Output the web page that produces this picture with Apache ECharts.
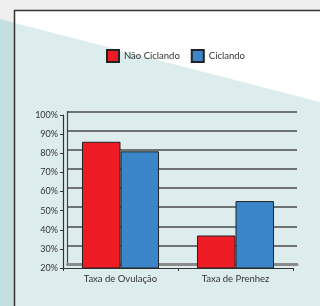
<!DOCTYPE html>
<html>
<head>
<meta charset="utf-8">
<script src="https://cdn.jsdelivr.net/npm/echarts@6/dist/echarts.min.js"></script>
<style>
  html, body { margin: 0; padding: 0; background: #efefef; }
  #chart { width: 320px; height: 306px; }
</style>
</head>
<body>
<div id="chart"></div>
<script>
// dados do gráfico
const categorias = ["Taxa de Ovulação", "Taxa de Prenhez"];
const naoCiclando = [86, 37];
const ciclando = [81, 55];
const eixoMin = 20;
const eixoMax = 100;
const eixoPasso = 10;

const fonte = "Lato, 'DejaVu Sans', sans-serif";
const chart = echarts.init(document.getElementById("chart"));

chart.setOption({
  animation: false,
  textStyle: { fontFamily: fonte },
  // fundo: moldura e faixa diagonal (decoração)
  graphic: [
    { type: "polygon", z: -20, silent: true,
      shape: { points: [[0, 19], [15, 23], [15, 306], [0, 306]] },
      style: { fill: "#c4dfdf" } },
    { type: "rect", z: -20, silent: true,
      shape: { x: 15, y: 11, width: 310, height: 300 },
      style: { fill: "#ffffff" } },
    { type: "polygon", z: -19, silent: true,
      shape: { points: [[15, 23], [320, 102], [320, 306], [15, 306]] },
      style: { fill: "#ddeded" } },
    { type: "rect", z: -18, silent: true,
      shape: { x: 14.5, y: 10.5, width: 320, height: 310 },
      style: { fill: null, stroke: "#333", lineWidth: 1.5 } }
  ],
  legend: {
    left: 106,
    top: 49,
    padding: 0,
    itemWidth: 12,
    itemHeight: 12,
    itemGap: 11,
    icon: "rect",
    textStyle: { fontSize: 9.5, color: "#333", fontFamily: fonte },
    data: ["Não Ciclando", "Ciclando"]
  },
  grid: [
    // parede do fundo
    { left: 67.5, right: 23, top: 111.5, bottom: 41.5, containLabel: false },
    // frente
    { left: 63, right: 27, top: 115, bottom: 38, containLabel: false }
  ],
  xAxis: [
    { type: "category", gridIndex: 0, data: categorias,
      axisLine: { show: true, lineStyle: { color: "#8a8a8a", width: 3 } },
      axisTick: { show: false }, axisLabel: { show: false } },
    { type: "category", gridIndex: 1, data: categorias,
      axisLine: { show: true, lineStyle: { color: "#333", width: 1.2 } },
      axisTick: { show: true, inside: false, length: 3, alignWithLabel: false, lineStyle: { color: "#333" } },
      axisLabel: { fontSize: 9.5, color: "#333", margin: 6, fontFamily: fonte } }
  ],
  yAxis: [
    { type: "value", gridIndex: 0, min: eixoMin, max: eixoMax, interval: eixoPasso,
      axisLine: { show: true, lineStyle: { color: "#444", width: 1.2 } },
      axisTick: { show: false }, axisLabel: { show: false },
      splitLine: { show: true, lineStyle: { color: "#4a4a4a", width: 1.5 } } },
    { type: "value", gridIndex: 1, min: eixoMin, max: eixoMax, interval: eixoPasso,
      axisLine: { show: true, lineStyle: { color: "#333", width: 1.2 } },
      axisTick: { show: true, length: 3, lineStyle: { color: "#333" } },
      splitLine: { show: false },
      axisLabel: { fontSize: 9, color: "#333", margin: 5, formatter: "{value}%", fontFamily: fonte } }
  ],
  series: [
    { name: "Não Ciclando", type: "bar", xAxisIndex: 1, yAxisIndex: 1,
      data: naoCiclando, barWidth: "33.5%", barGap: "0%",
      itemStyle: { color: "#ed1c24", borderColor: "#222", borderWidth: 1 } },
    { name: "Ciclando", type: "bar", xAxisIndex: 1, yAxisIndex: 1,
      data: ciclando, barWidth: "33.5%", barGap: "0%",
      itemStyle: { color: "#3a86c8", borderColor: "#222", borderWidth: 1 } }
  ]
});
</script>
</body>
</html>
